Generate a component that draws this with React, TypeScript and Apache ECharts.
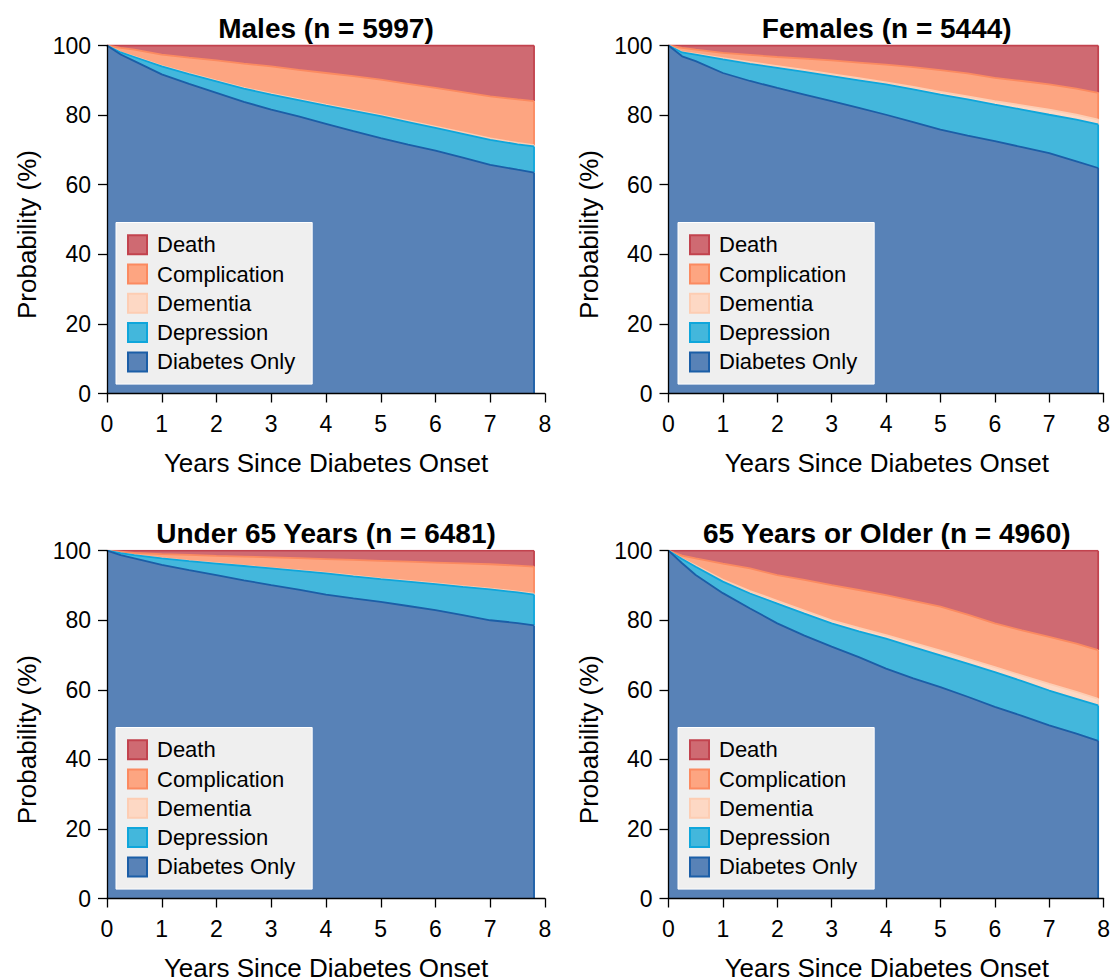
import React, { useEffect, useRef } from "react";
import * as echarts from "echarts";

const FONT = "'Liberation Sans', Arial, Helvetica, sans-serif";

const STATES = ["Diabetes Only", "Depression", "Dementia", "Complication", "Death"];
const LEGEND_ORDER = ["Death", "Complication", "Dementia", "Depression", "Diabetes Only"];
const X_TICKS = [0, 1, 2, 3, 4, 5, 6, 7, 8];
const Y_TICKS = [0, 20, 40, 60, 80, 100];

// ---- Males (n = 5997) ----
const MALES_X = [0, 0.25, 0.5, 1, 1.5, 2, 2.5, 3, 3.5, 4, 4.5, 5, 5.5, 6, 6.5, 7, 7.5, 7.8];
const MALES_DIABETES = [100, 97.4, 95.5, 91.7, 89.0, 86.4, 83.8, 81.6, 79.6, 77.5, 75.4, 73.4, 71.5, 69.8, 67.8, 65.7, 64.3, 63.5];
const MALES_DEPRESSION = [0, 0.6, 1.2, 2.3, 2.8, 3.3, 3.8, 4.3, 4.7, 5.2, 5.8, 6.3, 6.5, 6.5, 6.8, 7.2, 7.3, 7.5];
const MALES_DEMENTIA = [0, 0.05, 0.1, 0.15, 0.2, 0.2, 0.25, 0.3, 0.3, 0.3, 0.3, 0.3, 0.35, 0.4, 0.4, 0.4, 0.4, 0.4];
const MALES_COMPLICATION = [0, 1.25, 2.0, 3.25, 4.5, 5.8, 6.95, 7.8, 8.4, 9.1, 9.7, 10.2, 10.65, 11.1, 11.6, 12.1, 12.5, 12.6];
const MALES_DEATH = [0, 0.7, 1.2, 2.6, 3.5, 4.3, 5.2, 6.0, 7.0, 7.9, 8.8, 9.8, 11.0, 12.2, 13.4, 14.6, 15.5, 16.0];

// ---- Females (n = 5444) ----
const FEMALES_X = [0, 0.25, 0.5, 1, 1.5, 2, 2.5, 3, 3.5, 4, 4.5, 5, 5.5, 6, 6.5, 7, 7.5, 7.9];
const FEMALES_DIABETES = [100, 96.9, 95.5, 92.1, 89.8, 87.8, 85.9, 84.0, 82.1, 80.1, 78.0, 75.8, 74.1, 72.5, 70.8, 69.1, 66.7, 64.8];
const FEMALES_DEPRESSION = [0, 1.1, 1.9, 3.9, 4.9, 5.8, 6.5, 7.2, 7.9, 8.7, 9.4, 10.1, 10.4, 10.5, 10.8, 11.0, 12.0, 12.5];
const FEMALES_DEMENTIA = [0, 0.1, 0.2, 0.4, 0.5, 0.5, 0.6, 0.6, 0.6, 0.6, 0.7, 0.8, 0.9, 1.0, 1.2, 1.5, 1.4, 1.4];
const FEMALES_COMPLICATION = [0, 1.2, 1.2, 1.5, 2.1, 2.6, 3.2, 3.9, 4.5, 5.1, 5.7, 6.2, 6.6, 6.7, 7.0, 7.2, 7.5, 7.7];
const FEMALES_DEATH = [0, 0.7, 1.2, 2.1, 2.7, 3.3, 3.8, 4.3, 4.9, 5.5, 6.2, 7.1, 8.0, 9.3, 10.2, 11.2, 12.4, 13.6];

// ---- Under 65 Years (n = 6481) ----
const UNDER65_X = [0, 0.25, 0.5, 1, 1.5, 2, 2.5, 3, 3.5, 4, 4.5, 5, 5.5, 6, 6.5, 7, 7.5, 7.8];
const UNDER65_DIABETES = [100, 98.7, 97.8, 95.9, 94.4, 93.0, 91.5, 90.1, 88.8, 87.4, 86.3, 85.3, 84.1, 82.9, 81.5, 80.0, 79.2, 78.5];
const UNDER65_DEPRESSION = [0, 0.6, 0.9, 1.9, 2.6, 3.3, 4.1, 4.8, 5.4, 6.1, 6.3, 6.5, 7.0, 7.5, 8.1, 8.9, 8.8, 8.9];
const UNDER65_DEMENTIA = [0, 0.02, 0.05, 0.05, 0.1, 0.1, 0.1, 0.1, 0.15, 0.15, 0.2, 0.2, 0.2, 0.2, 0.2, 0.2, 0.25, 0.25];
const UNDER65_COMPLICATION = [0, 0.38, 0.65, 1.15, 1.7, 2.1, 2.6, 3.1, 3.5, 3.95, 4.55, 5.1, 5.55, 6.0, 6.55, 7.0, 7.45, 7.75];
const UNDER65_DEATH = [0, 0.3, 0.6, 1.0, 1.2, 1.5, 1.7, 1.9, 2.15, 2.4, 2.65, 2.9, 3.15, 3.4, 3.65, 3.9, 4.3, 4.6];

// ---- 65 Years or Older (n = 4960) ----
const OVER65_X = [0, 0.25, 0.5, 1, 1.5, 2, 2.5, 3, 3.5, 4, 4.5, 5, 5.5, 6, 6.5, 7, 7.5, 7.9];
const OVER65_DIABETES = [100, 96.4, 93.0, 87.8, 83.4, 79.1, 75.6, 72.4, 69.4, 66.1, 63.3, 60.8, 58.0, 55.1, 52.5, 49.8, 47.4, 45.3];
const OVER65_DEPRESSION = [0, 1.2, 2.4, 3.3, 4.3, 5.7, 6.3, 6.7, 7.4, 8.6, 9.0, 9.1, 9.5, 10.0, 10.0, 10.0, 10.0, 10.2];
const OVER65_DEMENTIA = [0, 0.1, 0.3, 0.5, 0.7, 0.8, 0.9, 0.9, 1.0, 1.0, 1.2, 1.4, 1.4, 1.4, 1.6, 1.9, 2.0, 1.9];
const OVER65_COMPLICATION = [0, 0.9, 2.1, 4.7, 6.5, 7.4, 8.8, 10.1, 10.9, 11.5, 12.1, 12.6, 12.7, 12.6, 13.0, 13.5, 13.9, 14.0];
const OVER65_DEATH = [0, 1.4, 2.2, 3.7, 5.1, 7.0, 8.4, 9.9, 11.3, 12.8, 14.4, 16.1, 18.4, 20.9, 22.9, 24.8, 26.7, 28.6];

const PANELS = [
  { title: "Males (n = 5997)", x: MALES_X, layers: [MALES_DIABETES, MALES_DEPRESSION, MALES_DEMENTIA, MALES_COMPLICATION, MALES_DEATH] },
  { title: "Females (n = 5444)", x: FEMALES_X, layers: [FEMALES_DIABETES, FEMALES_DEPRESSION, FEMALES_DEMENTIA, FEMALES_COMPLICATION, FEMALES_DEATH] },
  { title: "Under 65 Years (n = 6481)", x: UNDER65_X, layers: [UNDER65_DIABETES, UNDER65_DEPRESSION, UNDER65_DEMENTIA, UNDER65_COMPLICATION, UNDER65_DEATH] },
  { title: "65 Years or Older (n = 4960)", x: OVER65_X, layers: [OVER65_DIABETES, OVER65_DEPRESSION, OVER65_DEMENTIA, OVER65_COMPLICATION, OVER65_DEATH] },
];

const STYLE: Record<string, { fill: string; line: string; z: number }> = {
  "Diabetes Only": { fill: "#5882b7", line: "#1b5ea7", z: 7 },
  Depression: { fill: "#43b7dc", line: "#0fa6db", z: 6 },
  Dementia: { fill: "#fdd8c4", line: "#fdcdb3", z: 5 },
  Complication: { fill: "#fda581", line: "#fb8a60", z: 4 },
  Death: { fill: "#cf6a72", line: "#c2434e", z: 3 },
};

// grid geometry (page px)
const GRIDS = [
  { left: 107, top: 45.5, width: 438, height: 348 },
  { left: 668.5, top: 45.5, width: 436.5, height: 348 },
  { left: 107, top: 550.7, width: 438, height: 347.8 },
  { left: 668.5, top: 550.7, width: 436.5, height: 347.8 },
];

export default function App() {
  const ref = useRef<HTMLDivElement>(null);
  useEffect(() => {
    if (!ref.current) return;
    const chart = echarts.init(ref.current, undefined, { renderer: "svg" });
    const axisLineStyle = { color: "#000", width: 1.3 };

    const grid = GRIDS.map((g) => ({ ...g, containLabel: false }));
    const xAxis = GRIDS.map((_, i) => ({
      gridIndex: i,
      type: "value",
      min: X_TICKS[0],
      max: X_TICKS[X_TICKS.length - 1],
      interval: 1,
      axisLine: { show: true, onZero: false, lineStyle: axisLineStyle },
      axisTick: { show: true, length: 9, lineStyle: axisLineStyle },
      axisLabel: { fontSize: 23, color: "#000", margin: 19, fontFamily: FONT },
      splitLine: { show: false },
      z: 10,
    }));
    const yAxis = GRIDS.map((_, i) => ({
      gridIndex: i,
      type: "value",
      min: Y_TICKS[0],
      max: Y_TICKS[Y_TICKS.length - 1],
      interval: 20,
      axisLine: { show: true, onZero: false, lineStyle: axisLineStyle },
      axisTick: { show: true, length: 9, lineStyle: axisLineStyle },
      axisLabel: { fontSize: 23, color: "#000", margin: 16, fontFamily: FONT },
      splitLine: { show: false },
      z: 10,
    }));

    // Cumulative boundaries (top edge of each state), drawn as areas down to 0;
    // lower states are drawn above upper ones so the stack reads correctly.
    const series: any[] = [];
    PANELS.forEach((p, i) => {
      const cum: number[] = p.x.map(() => 0);
      const last = p.x.length - 1;
      STATES.forEach((name, k) => {
        const st = STYLE[name];
        const lowerEnd = cum[last];
        const tops = p.x.map((_, j) => {
          cum[j] += p.layers[k][j];
          return Math.min(100, +cum[j].toFixed(3));
        });
        series.push({
          type: "line",
          name,
          xAxisIndex: i,
          yAxisIndex: i,
          data: p.x.map((xv, j) => [xv, tops[j]]),
          showSymbol: false,
          symbol: "none",
          lineStyle: { color: st.line, width: 1.8 },
          areaStyle: { color: st.fill, opacity: 1, origin: "start" },
          itemStyle: { color: st.fill },
          z: st.z,
          silent: true,
        });
        // border of the band at its right end
        series.push({
          type: "line",
          name: name + " end",
          xAxisIndex: i,
          yAxisIndex: i,
          data: [
            [p.x[last], +lowerEnd.toFixed(3)],
            [p.x[last], tops[last]],
          ],
          showSymbol: false,
          symbol: "none",
          lineStyle: { color: st.line, width: 1.8 },
          z: st.z,
          silent: true,
        });
      });
    });

    const legendPos = [
      { left: 116, top: 222.5 },
      { left: 678, top: 222.5 },
      { left: 116, top: 727.5 },
      { left: 678, top: 727.5 },
    ];
    const legend = legendPos.map((pos) => ({
      ...pos,
      orient: "vertical",
      icon: "rect",
      itemWidth: 19,
      itemHeight: 19,
      itemGap: 7.3,
      padding: [11.2, 17, 11.2, 11],
      backgroundColor: "#efefef",
      borderColor: "#ffffff",
      borderWidth: 1,
      selectedMode: false,
      textStyle: { fontSize: 22, color: "#000", fontFamily: FONT, lineHeight: 22, padding: [0, 0, 0, 5] },
      data: LEGEND_ORDER.map((n) => ({
        name: n,
        itemStyle: { color: STYLE[n].fill, borderColor: STYLE[n].line, borderWidth: 2 },
      })),
      z: 20,
    }));

    const titleY = [28.5, 28.5, 533.5, 533.5];
    const graphic: any[] = [];
    PANELS.forEach((p, i) => {
      const g = GRIDS[i];
      graphic.push({
        type: "text",
        x: g.left + g.width / 2,
        y: titleY[i],
        style: {
          text: p.title,
          font: `bold 28px ${FONT}`,
          fill: "#000",
          textAlign: "center",
          textVerticalAlign: "middle",
        },
      });
      graphic.push({
        type: "text",
        x: g.left + g.width / 2,
        y: g.top + g.height + 69.5,
        style: {
          text: "Years Since Diabetes Onset",
          font: `26px ${FONT}`,
          fill: "#000",
          textAlign: "center",
          textVerticalAlign: "middle",
        },
      });
      graphic.push({
        type: "text",
        x: g.left - 80,
        y: g.top + g.height / 2 + 15,
        rotation: Math.PI / 2,
        style: {
          text: "Probability (%)",
          font: `26px ${FONT}`,
          fill: "#000",
          textAlign: "center",
          textVerticalAlign: "middle",
        },
      });
    });

    chart.setOption({
      animation: false,
      backgroundColor: "#ffffff",
      grid,
      xAxis,
      yAxis,
      series,
      legend,
      graphic,
    } as any);
    return () => chart.dispose();
  }, []);

  return (
    <div
      ref={ref}
      style={{ position: "absolute", left: 0, top: 0, width: 1113, height: 977 }}
    />
  );
}
